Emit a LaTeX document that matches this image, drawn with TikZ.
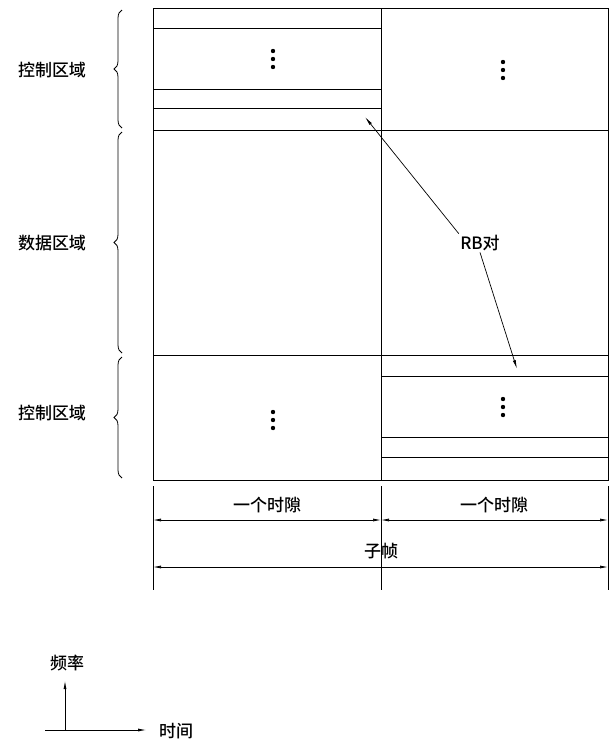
\documentclass[tikz,border=0pt]{standalone}
\usepackage{fontspec}
\newfontfamily\cjk{Noto Sans CJK SC Medium}
\usetikzlibrary{decorations.pathreplacing,arrows.meta}
\tikzset{
  lbl/.style={font=\cjk\fontsize{17}{17}\selectfont},
  grp/.style={decorate,decoration={brace,amplitude=8pt}},
  dim/.style={{Latex[length=8pt,width=3pt]}-{Latex[length=8pt,width=3pt]}},
  pin/.style={coordinate},
}
\newcommand\threedots[1]{\foreach \d in {-8,0,8} \fill ($(#1)+(0,\d)$) circle (2.2);}
\usetikzlibrary{calc}
\begin{document}
\begin{tikzpicture}[x=1pt,y=-1pt,line width=1pt]
    \useasboundingbox (0,0) rectangle (613,753);
    % Grid of the subframe
    \draw (153,8) rectangle (608,480);
    \draw (381,8) -- (381,480);
    \draw (153,130) -- (608,130);
    \draw (153,355) -- (608,355);
    % RB rows
    \foreach \y in {28,89,108} \draw (153,\y) -- (381,\y);
    \foreach \y in {376,437,457} \draw (381,\y) -- (608,\y);
    % Dots
    \coordinate (d1) at (273,59);
    \coordinate (d2) at (503,70);
    \coordinate (d3) at (273,420);
    \coordinate (d4) at (503,407);
    \threedots{d1} \threedots{d2} \threedots{d3} \threedots{d4}
    % Braces and region labels
    \draw[grp,line width=0.8pt] (122,128) -- (122,10);
    \draw[grp,line width=0.8pt] (122,353) -- (122,132);
    \draw[grp,line width=0.8pt] (122,478) -- (122,357);
    \node[lbl] (ctrl1) at (52,70) {控制区域};
    \node[lbl] (data) at (52,243) {数据区域};
    \node[lbl] (ctrl2) at (52,413) {控制区域};
    % RB pair
    \node[lbl,inner sep=1pt] (rb) at (480,243) {RB对};
    \coordinate (rb1) at (365,117);
    \coordinate (rb2) at (517,369);
    \draw[-{Latex[length=9pt,width=3pt]},line width=0.7pt] (rb.north west) -- (rb1);
    \draw[-{Latex[length=9pt,width=3pt]},line width=0.7pt] (rb.south) -- (rb2);
    % Dimensions
    \foreach \x in {153,381,608} \draw[line width=0.7pt] (\x,486) -- (\x,590);
    \coordinate (s0) at (153,520);
    \coordinate (s1) at (381,520);
    \coordinate (s2) at (608,520);
    \coordinate (f0) at (153,567);
    \coordinate (f1) at (608,567);
    \draw[dim,line width=0.7pt] (s0) -- (s1);
    \draw[dim,line width=0.7pt] (s1) -- (s2);
    \draw[dim,line width=0.7pt] (f0) -- (f1);
    \node[lbl] (slot1) at (267,505) {一个时隙};
    \node[lbl] (slot2) at (494,505) {一个时隙};
    \node[lbl] (sub) at (381,551) {子帧};
    % Axes
    \coordinate (o) at (65,730);
    \coordinate (ox) at (45,730);
    \draw[-{Latex[length=9pt,width=3pt]}] (o) -- (65,680);
    \draw[-{Latex[length=9pt,width=3pt]}] (ox) -- (147,730);
    \node[lbl] (freq) at (67,663) {频率};
    \node[lbl] (time) at (176,731) {时间};
\end{tikzpicture}
\end{document}
